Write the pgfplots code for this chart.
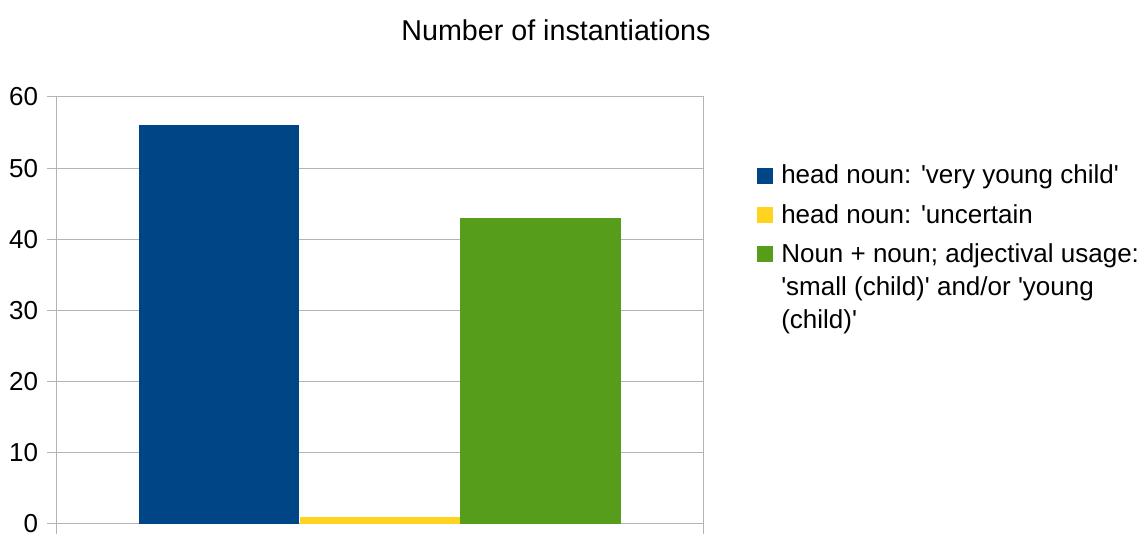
\documentclass[border=0pt]{standalone}
\usepackage{pgfplots}
\pgfplotsset{compat=1.18}
\usepackage{amsmath}
\usepackage{fontspec}
\setmainfont{Liberation Sans}
\definecolor{lblue}{HTML}{004586}
\definecolor{lyellow}{HTML}{FFD320}
\definecolor{lgreen}{HTML}{579D1C}
\definecolor{lgrid}{HTML}{B3B3B3}
\newcommand{\q}{\textquotesingle}
\newcommand{\lt}[1]{\smash[b]{\begin{tabular}[t]{@{}l@{}}#1\end{tabular}}}
\begin{document}
\fontsize{19.5}{24.75}\selectfont
\begin{tikzpicture}
\useasboundingbox (-42.75pt,-7.5pt) rectangle (813.75pt,393pt);
\clip (-42.75pt,-7.5pt) rectangle (813.75pt,393pt);
\begin{axis}[
  at={(0,0)}, anchor=south west,
  scale only axis, width=484.5pt, height=320.25pt,
  xmin=0, xmax=1, ymin=0, ymax=60,
  ytick={0,10,...,60},
  xtick={0,1}, xticklabels={},
  ymajorgrids,
  grid style={lgrid, line width=0.75pt},
  axis line style={lgrid, line width=0.75pt},
  tick style={lgrid, line width=0.75pt},
  major tick length=7.5pt,
  tick align=outside,
  ytick pos=left, xtick pos=bottom,
  yticklabel style={font=\fontsize{19.5}{23}\selectfont, xshift=0pt},
  /pgf/number format/assume math mode=true,
  ybar, bar width=0.249,
  legend style={at={(1.0836,0.851)}, anchor=north west, draw=none, fill=none,
    inner sep=0pt, column sep=6pt,
    font=\fontsize{19.5}{24.75}\selectfont, row sep=9.2pt,
    nodes={inner sep=0pt}},
  legend cell align=left,
  legend image code/.code={\fill[#1] (0pt,-7.16pt) rectangle (12pt,4.84pt);},
]
\addplot[fill=lblue, draw=none, bar shift=0pt] coordinates {(0.2508,56)};
\addlegendentry{\lt{head noun: \q very young child\q}}
\addplot[fill=lyellow, draw=none, bar shift=0pt] coordinates {(0.5,1)};
\addlegendentry{\lt{head noun: \q uncertain}}
\addplot[fill=lgreen, draw=none, bar shift=0pt] coordinates {(0.749,43)};
\addlegendentry{\lt{Noun + noun; adjectival usage:\\\q small (child)\q{} and/or \q young\\(child)\q}}
\end{axis}
\node[font=\fontsize{21.5}{26}\selectfont] at (374.25pt,370.5pt) {Number of instantiations};
\end{tikzpicture}
\end{document}
